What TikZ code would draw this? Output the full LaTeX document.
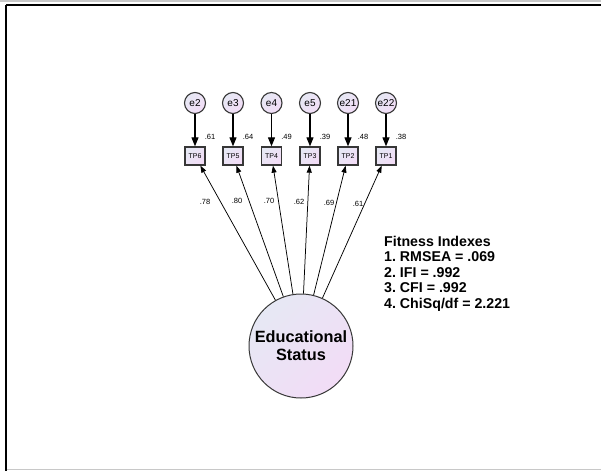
\documentclass[tikz,border=0pt]{standalone}
\usepackage{fontspec}
\setmainfont{Liberation Sans}
\usetikzlibrary{arrows.meta}
\definecolor{fillA}{RGB}{230,232,244}
\definecolor{fillB}{RGB}{242,220,246}
\definecolor{edgec}{RGB}{55,55,55}
\definecolor{framegray}{RGB}{200,200,200}
\begin{document}
\frenchspacing
\begin{tikzpicture}[x=1pt,y=-1pt,
  errc/.style={circle, draw=edgec, line width=1.1pt, minimum size=21pt, inner sep=0pt,
    left color=fillA, right color=fillB, shading angle=45, font=\fontsize{10}{11}\selectfont},
  obsbox/.style={rectangle, draw=edgec, line width=1.3pt, minimum width=20pt, minimum height=18pt,
    inner sep=0pt, left color=fillA, right color=fillB, shading angle=45, font=\fontsize{7}{8}\selectfont},
  lat/.style={circle, draw=edgec, line width=1pt, minimum size=104pt, inner sep=0pt,
    left color=fillA, right color=fillB, shading angle=45, align=center,
    font=\bfseries\fontsize{16.3}{18}\selectfont},
  earr/.style={-{Triangle[length=9pt,width=7pt]}, line width=1.1pt, black},
  larr/.style={-{Triangle[length=7pt,width=5pt]}, line width=0.75pt, black},
  smalllbl/.style={inner sep=0pt, font=\fontsize{7.5}{8}\selectfont},
  fitlbl/.style={inner sep=0pt, anchor=north west, align=left, font=\bfseries\fontsize{14.2}{15.4}\selectfont}
]
\useasboundingbox (0,0) rectangle (601,471);
\fill[white] (0,0) rectangle (601,471);
% frame
\draw[framegray, line width=1.5pt] (0,1) -- (601,1);
\draw[black, line width=2pt] (6,5) -- (601,5);
\draw[black, line width=2pt] (6,5) -- (6,471);
\draw[framegray, line width=1.5pt] (7,469.5) -- (601,469.5);

% error terms
\node[errc] (e2)  at (195,103) {e2};
\node[errc] (e3)  at (233,103) {e3};
\node[errc] (e4)  at (271.5,103) {e4};
\node[errc] (e5)  at (310,103) {e5};
\node[errc] (e21) at (348,103) {e21};
\node[errc] (e22) at (386,103) {e22};

% observed
\node[obsbox] (tp6) at (195,156) {TP6};
\node[obsbox] (tp5) at (233,156) {TP5};
\node[obsbox] (tp4) at (271.5,156) {TP4};
\node[obsbox] (tp3) at (310,156) {TP3};
\node[obsbox] (tp2) at (348,156) {TP2};
\node[obsbox] (tp1) at (386,156) {TP1};

\foreach \a/\b in {e2/tp6,e3/tp5,e4/tp4,e5/tp3,e21/tp2,e22/tp1}
  \draw[earr] (\a) -- (\b);

% R squared
\node[smalllbl] (r6) at (210,137) {.61};
\node[smalllbl] (r5) at (248,137) {.64};
\node[smalllbl] (r4) at (286.5,137) {.49};
\node[smalllbl] (r3) at (325,137) {.39};
\node[smalllbl] (r2) at (363,137) {.48};
\node[smalllbl] (r1) at (401,137) {.38};

% latent
\node[lat] (es) at (301,346) {Educational\\Status};

\foreach \b in {tp6,tp5,tp4,tp3,tp2,tp1}
  \draw[larr] (es) -- (\b);

% loadings
\node[smalllbl] (l6) at (205,202) {.78};
\node[smalllbl] (l5) at (237,201) {.80};
\node[smalllbl] (l4) at (269,201) {.70};
\node[smalllbl] (l3) at (299,202) {.62};
\node[smalllbl] (l2) at (329,203) {.69};
\node[smalllbl] (l1) at (358,204) {.61};

% fit indexes
\node[fitlbl] (fit) at (384,236) {Fitness Indexes\\1. RMSEA = .069\\2. IFI = .992\\3. CFI = .992\\4. ChiSq/df = 2.221};
\end{tikzpicture}
\end{document}
